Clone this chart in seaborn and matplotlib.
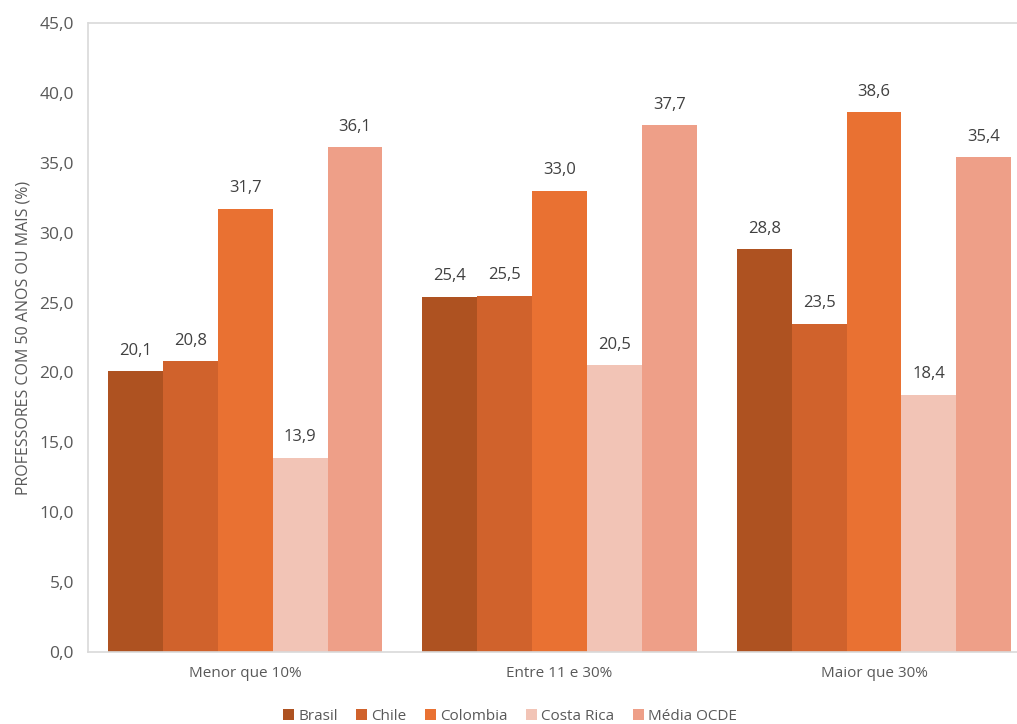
import matplotlib
matplotlib.use("Agg")
import matplotlib.pyplot as plt
import seaborn as sns
import pandas as pd

categories = ["Menor que 10%", "Entre 11 e 30%", "Maior que 30%"]
series = ["Brasil", "Chile", "Colombia", "Costa Rica", "Média OCDE"]
brasil = [20.1, 25.4, 28.8]
chile = [20.8, 25.5, 23.5]
colombia = [31.7, 33.0, 38.6]
costa_rica = [13.9, 20.5, 18.4]
media_ocde = [36.1, 37.7, 35.4]
y_ticks = [0, 5, 10, 15, 20, 25, 30, 35, 40, 45]
y_label = "PROFESSORES COM 50 ANOS OU MAIS (%)"

colors = ["#AE5221", "#D0622C", "#E97132", "#F2C4B6", "#EE9F88"]

values = [brasil, chile, colombia, costa_rica, media_ocde]
rows = []
for s, vals in zip(series, values):
    for c, v in zip(categories, vals):
        rows.append({"cat": c, "serie": s, "val": v})
df = pd.DataFrame(rows)

sns.set_theme(style="white")
plt.rcParams["font.family"] = ["Open Sans", "DejaVu Sans"]

fig = plt.figure(figsize=(10.17, 7.24), dpi=100)
ax = fig.add_axes([88/1017, (724-652)/724, 1 - 88/1017, (652-23)/724])

sns.barplot(data=df, x="cat", y="val", hue="serie", order=categories,
            hue_order=series, palette=colors, width=0.873, linewidth=0,
            saturation=1, errorbar=None, ax=ax, legend=True)

for cont in ax.containers:
    labels = [f"{b.get_height():.1f}".replace(".", ",") for b in cont]
    ax.bar_label(cont, labels=labels, padding=9, fontsize=12, color="#404040")

ax.set_ylim(0, 45)
ax.set_xlim(-0.5, 2.455)
ax.set_yticks(y_ticks)
ax.set_yticklabels([f"{t:.1f}".replace(".", ",") for t in y_ticks],
                   fontsize=12.5, color="#595959")
ax.tick_params(axis="x", labelsize=11, labelcolor="#595959", length=0, pad=10)
ax.tick_params(axis="y", length=0, pad=10)
ax.set_xlabel("")
ax.set_ylabel(y_label, fontsize=11.5, color="#595959", labelpad=6)

for side in ["top", "right"]:
    ax.spines[side].set_visible(False)
for side in ["left", "bottom"]:
    ax.spines[side].set_color("#D9D9D9")
    ax.spines[side].set_linewidth(1.2)
ax.axhline(45, color="#D9D9D9", linewidth=1.2, clip_on=False)

handles, labs = ax.get_legend_handles_labels()
ax.legend(handles, labs, loc="center", ncol=5, frameon=False, fontsize=11,
          labelcolor="#595959", handlelength=0.7, handleheight=0.7,
          handletextpad=0.3, columnspacing=1.2,
          bbox_to_anchor=(510/1017, (724-716)/724),
          bbox_transform=fig.transFigure)

fig.savefig("out.png", dpi=100)
